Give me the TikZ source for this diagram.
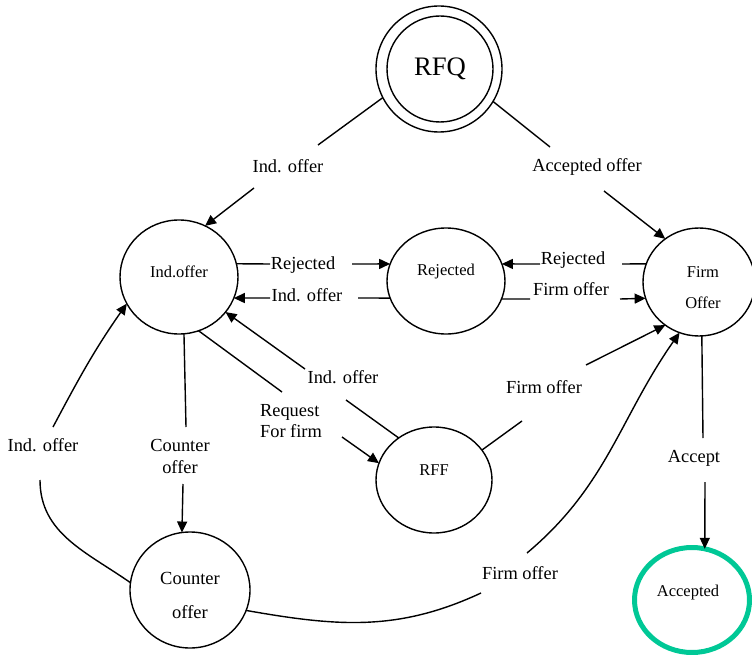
\documentclass[tikz,border=0pt]{standalone}
\usepackage{fontspec}
\setmainfont{Liberation Serif}
\usetikzlibrary{arrows.meta,shapes.geometric}
\definecolor{accgreen}{RGB}{0,200,150}
\begin{document}
\begin{tikzpicture}[x=1pt,y=-1pt,
  state/.style={ellipse,draw=black,line width=1.4pt,inner sep=0pt,outer sep=0pt},
  ntxt/.style={inner sep=0pt,font=\fontsize{16.5}{20}\selectfont},
  lbl/.style={inner sep=0pt,font=\fontsize{18.4}{21}\selectfont},
  conn/.style={line width=1.4pt},
  arr/.style={line width=1.4pt,-{Triangle[length=11pt,width=10pt]}}]
\useasboundingbox (0,0) rectangle (752,655);

% states
\node[circle,draw=black,line width=1.4pt,inner sep=0pt,outer sep=0pt,minimum size=126pt] (rfq) at (439,69) {};
\node[circle,draw=black,line width=1.4pt,inner sep=0pt,outer sep=0pt,minimum size=106pt] (rfqin) at (440,69) {};
\node[inner sep=0pt,font=\fontsize{26.7}{30}\selectfont] (rfqtxt) at (440,69) {RFQ};

\node[state,minimum width=118pt,minimum height=114pt] (ind) at (179,277) {};
\node[ntxt] (indtxt) at (179,272) {Ind.offer};

\node[state,minimum width=118pt,minimum height=106pt] (rej) at (446,281) {};
\node[ntxt] (rejtxt) at (446,272) {Rejected};

\node[state,minimum width=112pt,minimum height=108pt] (firm) at (699,282) {};
\node[ntxt,align=center,font=\fontsize{16.5}{31}\selectfont] (firmtxt) at (703,288) {Firm\\Offer};

\node[state,minimum width=116pt,minimum height=106pt] (rff) at (434,480) {};
\node[ntxt] (rfftxt) at (434,470) {RFF};

\node[state,minimum width=120pt,minimum height=116pt] (co) at (190,590) {};
\node[ntxt,align=center,font=\fontsize{18.5}{34}\selectfont] (cotxt) at (190,595) {Counter\\offer};

\node[state,draw=accgreen,line width=5pt,minimum width=115pt,minimum height=105pt] (acc) at (692,600) {};
\node[ntxt] (acctxt) at (688,593) {Accepted};

% labels
\node[lbl] (l1) at (288,166) {Ind. offer};
\node[lbl] (l2) at (587,167) {Accepted offer};
\node[lbl] (l3) at (303,265) {Rejected};
\node[lbl] (l4) at (307,295) {Ind. offer};
\node[lbl] (l5) at (573,260) {Rejected};
\node[lbl] (l6) at (571,289) {Firm offer};
\node[lbl] (l7) at (343,377) {Ind. offer};
\node[lbl,align=left,font=\fontsize{18.4}{21}\selectfont] (l8) at (291,421) {Request\\For firm};
\node[lbl,align=center,font=\fontsize{18.4}{22}\selectfont] (l9) at (180,456) {Counter\\offer};
\node[lbl] (l10) at (43,445) {Ind. offer};
\node[lbl] (l11) at (544,387) {Firm offer};
\node[lbl] (l12) at (520,573) {Firm offer};
\node[lbl] (l13) at (694,458) {Accept};

% break points of the connectors
\coordinate (e1a) at (318,145);  \coordinate (e1b) at (254,188);
\coordinate (e2a) at (550,147);  \coordinate (e2b) at (604,191);
\coordinate (e3a) at (270,264);  \coordinate (e3b) at (352,264);
\coordinate (e4a) at (358,298);  \coordinate (e4b) at (270,298);
\coordinate (e5a) at (622,264);  \coordinate (e5b) at (540,264);
\coordinate (e6a) at (530,299);  \coordinate (e6b) at (620,299);
\coordinate (e7a) at (346,400);  \coordinate (e7b) at (305,369);
\coordinate (e8a) at (282,392);  \coordinate (e8b) at (342,437);
\coordinate (e9a) at (186,427);  \coordinate (e9b) at (183,484);
\coordinate (e10a) at (40,480);  \coordinate (e10b) at (53,427);
\coordinate (e11a) at (522,421); \coordinate (e11b) at (586,365);
\coordinate (e12a) at (481,593); \coordinate (e12b) at (527,553);
\coordinate (e13a) at (703,438); \coordinate (e13b) at (705,482);

% connectors
\draw[conn] (rfq.207) -- (e1a);  \draw[arr] (e1b) -- (ind.63);
\draw[conn] (rfq.329) -- (e2a);  \draw[arr] (e2b) -- (firm.128);
\draw[conn] (ind.13) -- (e3a);   \draw[arr] (e3b) -- (rej.163);
\draw[conn] (rej.197) -- (e4a);  \draw[arr] (e4b) -- (ind.339);
\draw[conn] (firm.161) -- (e5a); \draw[arr] (e5b) -- (rej.17);
\draw[conn] (rej.342) -- (e6a);  \draw[arr] (e6b) -- (firm.197);
\draw[conn] (rff.130) -- (e7a);  \draw[arr] (e7b) -- (ind.323);
\draw[conn] (ind.290) -- (e8a);  \draw[arr] (e8b) -- (rff.163);
\draw[conn] (ind.275) -- (e9a);  \draw[arr] (e9b) -- (co.98);
\draw[conn] (co.173) to[out=145,in=-90] (e10a); \draw[arr] (e10b) to[out=62,in=235] (ind.207);
\draw[conn] (rff.32) -- (e11a);  \draw[arr] (e11b) -- (firm.232);
\draw[conn] (co.340) to[out=-10,in=205] (e12a); \draw[arr] (e12b) to[out=40,in=235] (firm.249);
\draw[conn] (firm.273) -- (e13a); \draw[arr] (e13b) -- (acc.76);
\end{tikzpicture}
\end{document}
